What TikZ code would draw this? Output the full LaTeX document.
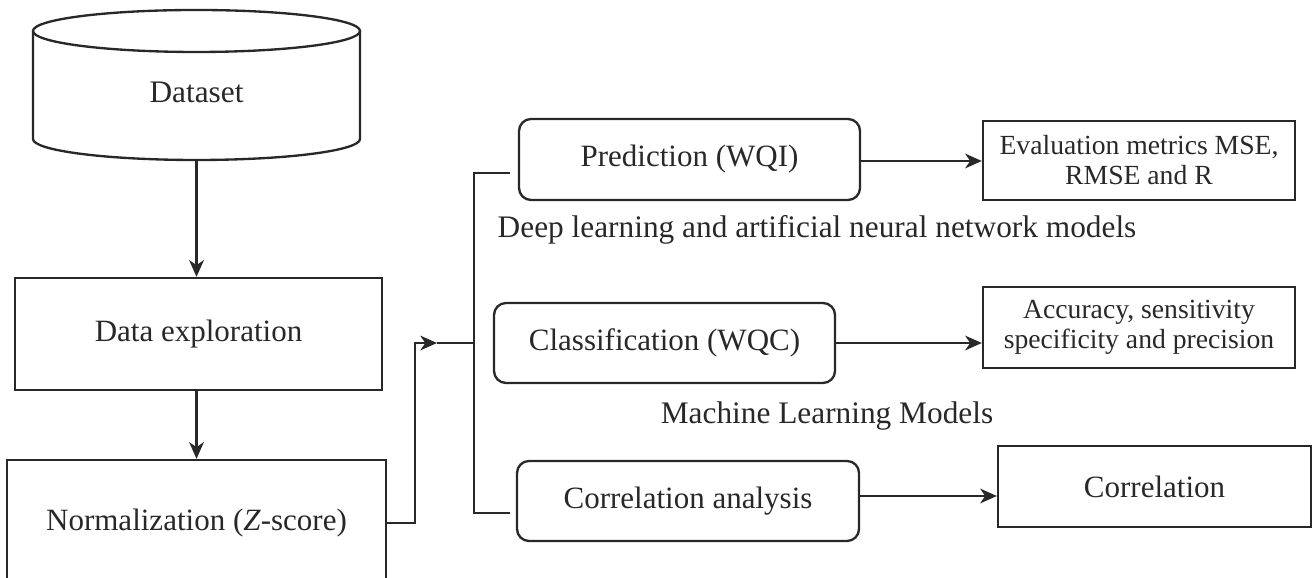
\documentclass[tikz,border=0pt]{standalone}
\usepackage{fontspec}
\setmainfont{Liberation Serif}
\usetikzlibrary{arrows.meta}
\definecolor{ink}{RGB}{40,40,40}
\begin{document}
\begin{tikzpicture}[x=0.3pt,y=-0.3pt,
  line width=0.7pt, draw=ink, text=ink,
  arr/.style={-{Stealth[length=5pt,width=4.4pt,inset=1.5pt]}},
  sqbox/.style={draw, rectangle, align=center, inner sep=0pt, font=\fontsize{9.3}{11}\selectfont},
  rbox/.style={draw, rectangle, rounded corners=3.6pt, align=center, inner sep=0pt, font=\fontsize{9.3}{11}\selectfont},
  mbox/.style={draw, rectangle, align=center, inner sep=0pt, font=\fontsize{8.3}{9}\selectfont},
  lbl/.style={inner sep=0pt, font=\fontsize{9.4}{11}\selectfont}
]
\useasboundingbox (0,0) rectangle (1312,578);

% cylinder
\draw (196.5,31) ellipse [x radius=49.05pt, y radius=6.3pt];
\draw (33,31) -- (33,139) arc[start angle=180, end angle=360, x radius=49.05pt, y radius=6.3pt] -- (360,31);
\node[inner sep=0pt, minimum width=98.1pt, minimum height=40.8pt, font=\fontsize{9.4}{11}\selectfont] (dataset) at (196.5,92) {Dataset};

\node[sqbox, minimum width=110.1pt, minimum height=33.6pt] (explore) at (198.5,334) {Data exploration};
\node[sqbox, minimum width=113.7pt, minimum height=37.8pt] (norm) at (196.5,523) {Normalization (\textit{Z}-score)};

\node[rbox, minimum width=102.3pt, minimum height=24.3pt] (pred) at (689.5,159.5) {Prediction (WQI)};
\node[rbox, minimum width=102.3pt, minimum height=24pt] (class) at (664.5,343) {Classification (WQC)};
\node[rbox, minimum width=102.6pt, minimum height=24pt] (corra) at (688,501) {Correlation analysis};

\node[mbox, minimum width=93.6pt, minimum height=23.7pt] (eval) at (1139,160.5) {Evaluation metrics MSE,\\RMSE and R};
\node[mbox, minimum width=93.6pt, minimum height=24.3pt] (acc) at (1139,327.5) {Accuracy, sensitivity\\specificity and precision};
\node[sqbox, minimum width=93.9pt, minimum height=24.3pt] (corr) at (1154.5,486.5) {Correlation};

\node[lbl] (dl) at (817,230) {Deep learning and artificial neural network models};
\node[lbl] (ml) at (827,416) {Machine Learning Models};

% connectors
\draw[arr] (dataset.south) -- (dataset.south |- explore.north);
\draw[arr] (explore.south -| dataset.south) -- (dataset.south |- norm.north);

\coordinate (tip) at (437,343);
\coordinate (junc) at (474,343);
\coordinate (jtop) at (474,173);
\coordinate (jbot) at (474,513);
\coordinate (ptop) at (510,173);
\coordinate (pbot) at (510,513);

\draw[arr] (norm.east) -- ++(28,0) |- (tip);
\draw (tip) -- (junc);
\draw (ptop) -- (jtop) -- (jbot) -- (pbot);

\draw[arr] ([yshift=-0.45pt]pred.east) -- ([yshift=-0.45pt]pred.east -| eval.west);
\draw[arr] (class.east) -- (class.east -| acc.west);
\draw[arr] ([yshift=1.5pt]corra.east) -- ([yshift=1.5pt]corra.east -| corr.west);
\end{tikzpicture}
\end{document}
